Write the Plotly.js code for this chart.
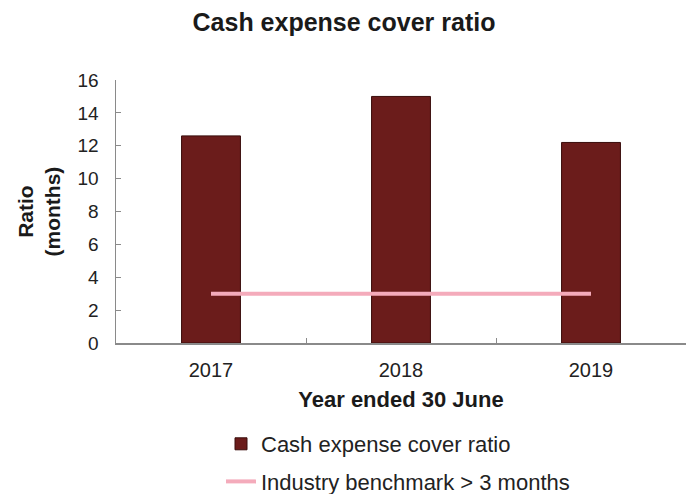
<!DOCTYPE html>
<html>
<head>
<meta charset="utf-8">
<script src="https://cdn.plot.ly/plotly-3.0.1.min.js"></script>
<style>html,body{margin:0;padding:0;background:#fff;}#chart{width:686px;height:494px;}</style>
</head>
<body>
<div id="chart"></div>
<script>
const years = ["2017", "2018", "2019"];
const coverRatio = [12.6, 15.0, 12.2];
const benchmark = [3, 3, 3];
const yTicks = [0, 2, 4, 6, 8, 10, 12, 14, 16];

const font = "Liberation Sans, Arial, Helvetica, sans-serif";

const traces = [
  {
    type: "bar",
    name: "Cash expense cover ratio",
    x: years,
    y: coverRatio,
    marker: {color: "#6b1c1b", line: {color: "#3a0d0c", width: 1}},
    legendgroup: "a",
    hoverinfo: "x+y"
  },
  {
    type: "scatter",
    mode: "lines",
    name: "Industry benchmark > 3 months",
    x: years,
    y: benchmark,
    line: {color: "#f4abbb", width: 4},
    legendgroup: "b"
  }
];

const layout = {
  width: 686,
  height: 494,
  paper_bgcolor: "#fff",
  plot_bgcolor: "#fff",
  font: {family: font, color: "#222"},
  margin: {l: 116, r: 0, t: 80, b: 151, pad: 0, autoexpand: false},
  bargap: 0.69,
  title: {
    text: "Cash expense cover ratio",
    font: {family: font, size: 25, weight: "bold", color: "#1a1a1a"},
    x: 344 / 686, xref: "container", xanchor: "center",
    y: 1 - 22 / 494, yref: "container", yanchor: "middle"
  },
  xaxis: {
    type: "category",
    range: [-0.5, 2.5],
    showgrid: false,
    zeroline: false,
    showline: true,
    linecolor: "#8a8a8a",
    linewidth: 1.5,
    ticks: "inside",
    tickson: "boundaries",
    ticklen: 5,
    tickcolor: "#8a8a8a",
    tickangle: 0,
    ticklabelstandoff: 8,
    tickfont: {family: font, size: 20, color: "#222"},
    title: {
      text: "Year ended 30 June",
      font: {family: font, size: 22, weight: "bold", color: "#1a1a1a"},
      standoff: 12
    }
  },
  yaxis: {
    range: [0, 16],
    tickvals: yTicks,
    ticktext: yTicks.map(String),
    showgrid: false,
    zeroline: false,
    showline: true,
    linecolor: "#8a8a8a",
    linewidth: 1.5,
    ticks: "inside",
    ticklen: 5,
    tickcolor: "#8a8a8a",
    ticklabelstandoff: 12,
    tickfont: {family: font, size: 19, color: "#222"}
  },
  annotations: [
    {
      text: "Ratio<br>(months)",
      xref: "paper", yref: "paper",
      x: (38 - 116) / 570, y: 0.5,
      xanchor: "center", yanchor: "middle",
      textangle: -90,
      showarrow: false,
      font: {family: font, size: 21, weight: "bold", color: "#1a1a1a"}
    }
  ],
  showlegend: true,
  legend: {
    orientation: "v",
    traceorder: "grouped",
    tracegroupgap: 6,
    xref: "container", yref: "container",
    x: 221 / 686, xanchor: "left",
    y: 1 - 423 / 494, yanchor: "top",
    font: {family: font, size: 22, color: "#222"},
    bgcolor: "rgba(0,0,0,0)",
    borderwidth: 0
  }
};

Plotly.newPlot("chart", traces, layout, {displayModeBar: false, staticPlot: true});
</script>
</body>
</html>
